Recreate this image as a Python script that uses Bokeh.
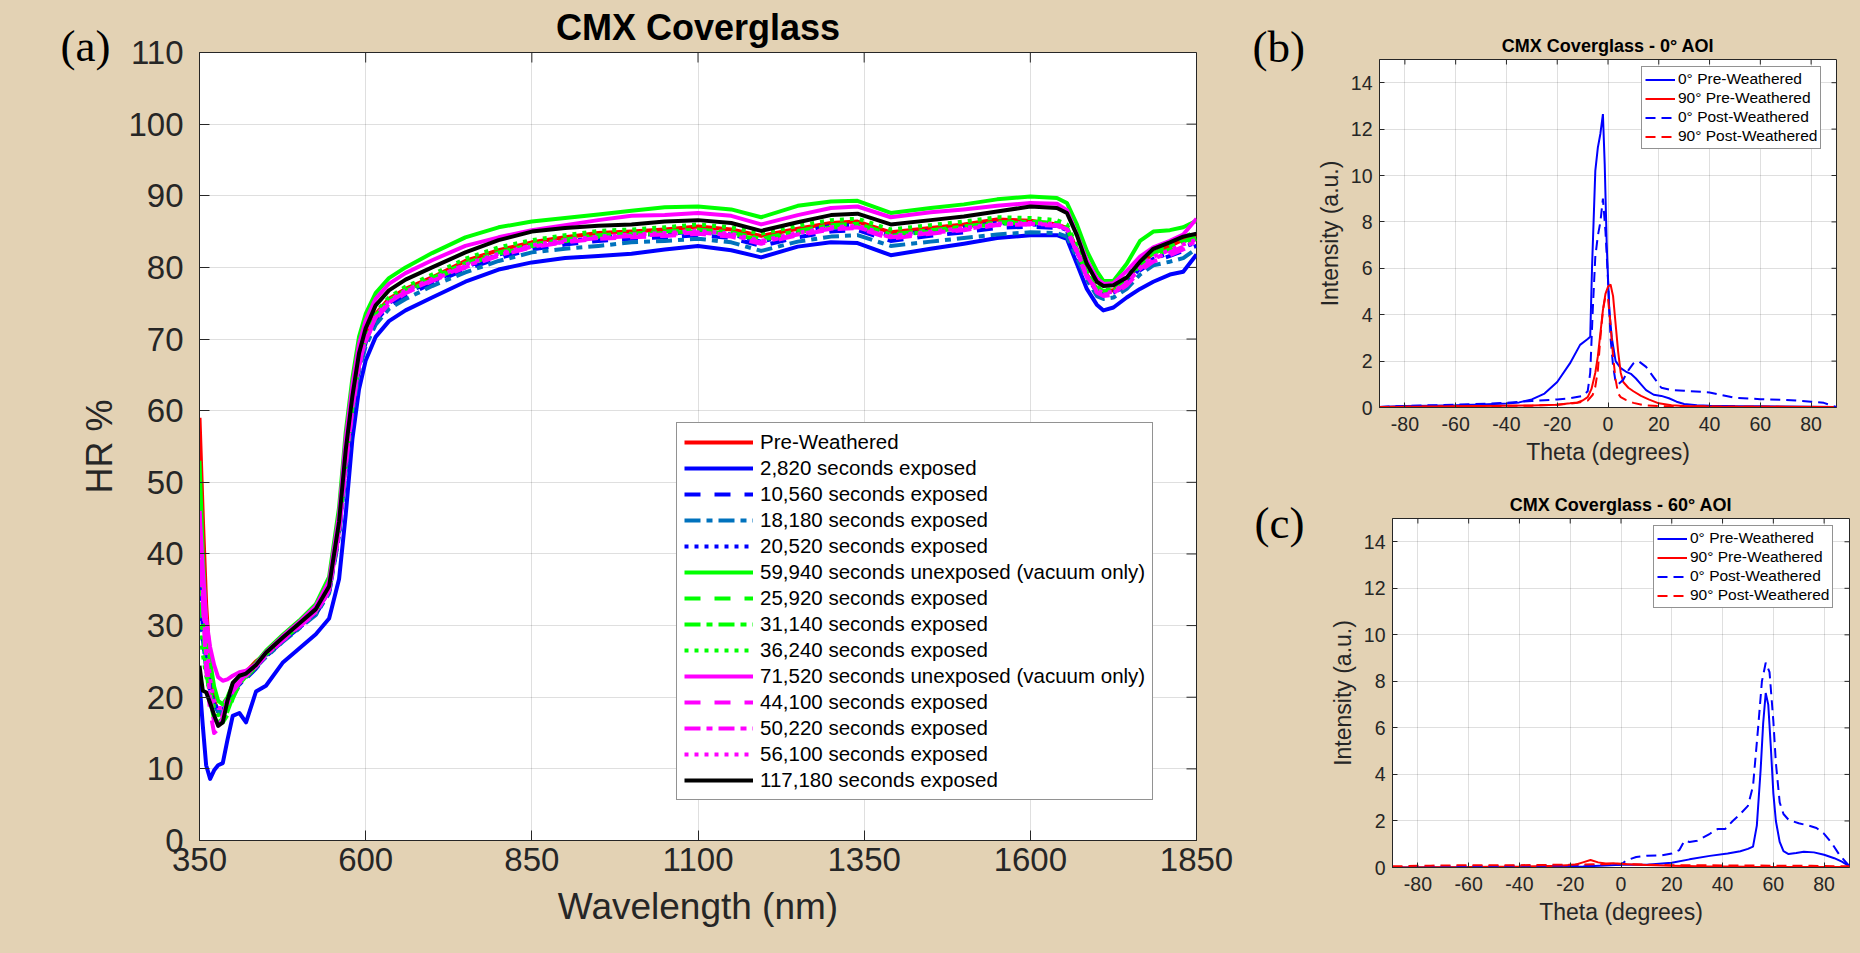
import math
from bokeh.plotting import figure
from bokeh.layouts import row, column
from bokeh.models import Label, Legend, LegendItem, FixedTicker, Range1d, Spacer
from bokeh.embed import file_html
from bokeh.resources import INLINE

# ---------------- data: panel (a) ----------------
WL = [350, 355, 360, 366, 372, 378, 385, 392, 400, 410, 420, 435,
      450, 475, 500, 525, 545, 560, 570, 580, 590, 600, 615, 635, 660,
      700, 750, 800, 850, 900, 950, 1000, 1050, 1100, 1150, 1195, 1250, 1300, 1340, 1390, 1450, 1500, 1550, 1600,
      1640, 1655, 1670, 1685, 1700, 1710, 1725, 1745, 1765, 1785, 1810, 1830, 1850]

pre_weathered = [59.0, 45.0, 33.0, 24.0, 19.5, 18.0, 17.5, 19.5, 21.5, 22.5, 23.5, 25.0,
    26.0, 28.1, 30.0, 32.0, 35.0, 43.5, 53.0, 61.0, 67.0, 70.5, 73.5, 75.6, 77.0,
    78.6, 80.9, 82.4, 83.5, 84.2, 84.8, 85.0, 85.3, 85.7, 85.3, 84.4, 85.4, 86.2, 86.4, 84.9, 85.5, 86.0, 86.7, 86.5,
    86.0, 85.5, 82.5, 79.0, 77.0, 76.6, 76.8, 78.4, 80.5, 82.0, 83.0, 83.9, 84.6]
s2820 = [22.0, 16.0, 10.5, 8.6, 9.8, 10.5, 10.8, 14.0, 17.4, 17.8, 16.5, 20.8,
    21.6, 24.8, 26.8, 28.8, 31.0, 36.5, 45.5, 56.0, 63.0, 67.0, 70.3, 72.5, 74.0,
    75.8, 78.0, 79.7, 80.7, 81.3, 81.6, 81.9, 82.5, 83.0, 82.4, 81.4, 82.9, 83.5, 83.4, 81.7, 82.6, 83.3, 84.1, 84.5,
    84.5, 84.0, 80.5, 77.0, 74.8, 74.0, 74.4, 75.8, 77.0, 78.0, 79.0, 79.4, 81.8]
s10560 = [36.0, 30.0, 25.0, 21.5, 19.0, 18.0, 17.8, 18.8, 20.3, 21.6, 22.6, 24.0,
    25.7, 27.8, 29.7, 31.6, 34.6, 42.8, 52.0, 60.0, 66.0, 69.5, 72.5, 74.6, 76.0,
    77.8, 79.7, 81.3, 82.5, 83.2, 83.7, 84.0, 84.2, 84.5, 84.1, 83.0, 84.2, 85.0, 85.2, 83.7, 84.4, 84.9, 85.5, 85.7,
    85.5, 85.0, 82.0, 78.7, 76.6, 76.2, 76.4, 77.6, 79.6, 80.8, 81.6, 82.3, 83.0]
s18180 = [33.0, 28.0, 24.0, 21.0, 19.0, 18.0, 17.8, 19.0, 20.5, 21.8, 22.8, 24.2,
    25.6, 27.7, 29.6, 31.5, 34.5, 42.5, 51.5, 59.5, 65.5, 69.0, 72.0, 74.2, 75.6,
    77.4, 79.3, 80.9, 82.1, 82.6, 83.0, 83.5, 83.7, 84.0, 83.5, 82.3, 83.6, 84.3, 84.5, 83.0, 83.6, 84.1, 84.6, 84.9,
    84.8, 84.3, 81.4, 78.3, 76.0, 75.6, 75.8, 77.0, 79.0, 80.3, 80.8, 81.3, 82.6]
s20520 = [34.0, 28.0, 24.0, 21.0, 19.2, 18.3, 18.2, 19.2, 20.6, 21.8, 22.8, 24.2,
    25.8, 27.9, 29.8, 31.8, 34.8, 43.0, 52.3, 60.3, 66.3, 69.8, 72.8, 75.0, 76.5,
    78.0, 80.0, 81.8, 83.0, 83.6, 84.2, 84.5, 84.7, 85.0, 84.6, 83.6, 84.8, 85.8, 85.9, 84.4, 85.1, 85.6, 86.2, 86.0,
    85.8, 85.2, 82.2, 78.9, 76.8, 76.3, 76.5, 77.8, 79.9, 81.2, 82.0, 82.8, 83.5]
s59940 = [53.0, 40.0, 30.0, 25.0, 21.5, 19.5, 19.0, 20.0, 21.8, 22.8, 23.4, 24.8,
    26.5, 28.7, 30.7, 33.0, 36.8, 46.5, 57.0, 64.5, 70.3, 73.5, 76.4, 78.5, 80.0,
    82.0, 84.2, 85.6, 86.4, 86.9, 87.4, 87.9, 88.4, 88.5, 88.1, 87.0, 88.6, 89.2, 89.3, 87.6, 88.3, 88.8, 89.5, 89.9,
    89.7, 89.0, 86.0, 82.3, 79.5, 78.1, 78.1, 80.5, 83.7, 85.0, 85.2, 85.6, 86.5]
s25920 = [50.0, 36.0, 27.0, 21.0, 17.5, 16.3, 16.5, 17.5, 19.8, 21.8, 22.8, 24.2,
    25.9, 28.0, 29.9, 31.9, 35.0, 43.3, 52.7, 60.6, 66.6, 70.0, 73.0, 75.2, 76.6,
    78.3, 80.3, 81.9, 83.0, 83.7, 84.3, 84.5, 84.8, 85.1, 84.7, 83.8, 84.9, 85.6, 85.8, 84.4, 85.0, 85.5, 86.1, 86.3,
    86.0, 85.4, 82.4, 79.0, 77.0, 76.5, 76.7, 78.2, 80.3, 81.7, 82.5, 83.3, 84.0]
s31140 = [38.0, 30.0, 24.0, 19.5, 17.0, 16.5, 17.0, 18.0, 20.0, 21.9, 22.9, 24.3,
    26.0, 28.0, 30.0, 32.0, 35.0, 43.4, 52.9, 60.8, 66.8, 70.3, 73.3, 75.4, 76.8,
    78.5, 80.6, 82.1, 83.2, 83.9, 84.5, 84.7, 85.0, 85.3, 84.9, 84.0, 85.1, 85.9, 86.1, 84.6, 85.2, 85.7, 86.3, 86.4,
    86.2, 85.6, 82.6, 79.2, 77.2, 76.7, 76.9, 78.5, 80.6, 82.0, 82.9, 83.6, 84.3]
s36240 = [30.0, 26.0, 23.0, 20.5, 18.5, 17.5, 17.8, 19.0, 20.6, 22.0, 23.0, 24.4,
    26.1, 28.2, 30.1, 32.1, 35.2, 43.7, 53.2, 61.2, 67.2, 70.7, 73.7, 75.8, 77.3,
    79.0, 81.2, 82.8, 83.8, 84.5, 85.1, 85.3, 85.6, 86.0, 85.6, 84.7, 85.8, 86.6, 86.8, 85.3, 85.9, 86.4, 87.0, 86.9,
    86.6, 86.0, 83.0, 79.4, 77.3, 76.8, 77.0, 78.8, 81.0, 82.4, 83.3, 84.2, 85.0]
s71520 = [46.0, 38.0, 31.0, 27.0, 24.5, 22.8, 22.3, 22.5, 23.0, 23.5, 23.7, 24.6,
    26.3, 28.5, 30.5, 32.7, 36.2, 45.5, 56.0, 63.5, 69.3, 72.6, 75.6, 77.7, 79.2,
    81.0, 83.0, 84.2, 85.2, 85.9, 86.6, 87.2, 87.3, 87.6, 87.2, 86.0, 87.3, 88.3, 88.5, 87.0, 87.7, 88.1, 88.6, 89.0,
    88.9, 88.0, 84.6, 81.0, 78.5, 77.7, 77.8, 79.5, 81.5, 82.8, 83.7, 84.6, 86.8]
s44100 = [46.0, 33.0, 24.0, 18.0, 15.0, 15.5, 17.5, 19.5, 21.0, 22.2, 23.0, 24.3,
    25.8, 27.9, 29.8, 31.8, 34.8, 43.0, 52.3, 60.2, 66.2, 69.7, 72.8, 74.9, 76.4,
    78.1, 80.0, 81.6, 82.8, 83.5, 84.0, 84.2, 84.4, 84.7, 84.3, 83.3, 84.5, 85.3, 85.5, 84.0, 84.7, 85.2, 85.9, 86.0,
    85.8, 85.2, 82.1, 78.6, 76.5, 76.0, 76.2, 77.5, 79.5, 80.8, 81.7, 82.5, 83.3]
s50220 = [44.0, 34.0, 26.0, 20.0, 16.5, 16.0, 17.0, 19.0, 20.8, 22.0, 23.0, 24.3,
    25.9, 28.0, 29.9, 31.9, 34.9, 43.2, 52.5, 60.4, 66.4, 69.9, 73.0, 75.1, 76.6,
    78.2, 80.2, 81.7, 82.9, 83.6, 84.1, 84.4, 84.6, 84.9, 84.5, 83.5, 84.6, 85.4, 85.6, 84.2, 84.8, 85.3, 86.0, 86.1,
    85.9, 85.3, 82.3, 78.8, 76.7, 76.2, 76.4, 77.8, 79.8, 81.2, 82.1, 82.9, 83.6]
s56100 = [42.0, 35.0, 28.0, 22.5, 19.5, 18.5, 18.5, 19.8, 21.2, 22.3, 23.1, 24.4,
    26.0, 28.1, 30.0, 32.0, 35.0, 43.4, 52.8, 60.7, 66.7, 70.2, 73.2, 75.3, 76.8,
    78.4, 80.4, 81.9, 83.1, 83.8, 84.3, 84.6, 84.8, 85.1, 84.7, 83.7, 84.8, 85.6, 85.8, 84.4, 85.0, 85.5, 86.1, 86.2,
    86.0, 85.4, 82.4, 78.9, 76.9, 76.4, 76.6, 78.0, 80.1, 81.5, 82.4, 83.2, 83.9]
s117180 = [24.4, 20.9, 20.7, 19.2, 17.5, 16.0, 16.5, 19.5, 22.0, 23.0, 23.3, 24.5,
    26.2, 28.3, 30.3, 32.3, 35.5, 44.5, 54.5, 62.0, 68.0, 71.5, 74.7, 76.8, 78.3,
    80.0, 82.1, 83.8, 85.0, 85.5, 85.8, 86.0, 86.4, 86.6, 86.2, 85.1, 86.3, 87.3, 87.5, 86.0, 86.6, 87.1, 87.8, 88.5,
    88.3, 87.6, 84.5, 80.5, 78.0, 77.4, 77.5, 78.6, 80.8, 82.6, 83.5, 84.3, 84.7]

SERIES_A = [pre_weathered, s2820, s10560, s18180, s20520, s59940, s25920, s31140, s36240,
            s71520, s44100, s50220, s56100, s117180]
LABELS_A = ["Pre-Weathered", "2,820 seconds exposed", "10,560 seconds exposed", "18,180 seconds exposed",
            "20,520 seconds exposed", "59,940 seconds unexposed (vacuum only)", "25,920 seconds exposed",
            "31,140 seconds exposed", "36,240 seconds exposed", "71,520 seconds unexposed (vacuum only)",
            "44,100 seconds exposed", "50,220 seconds exposed", "56,100 seconds exposed",
            "117,180 seconds exposed"]
XTICKS_A = [350, 600, 850, 1100, 1350, 1600, 1850]
YTICKS_A = [0, 10, 20, 30, 40, 50, 60, 70, 80, 90, 100, 110]

# ---------------- data: panel (b) 0 deg AOI ----------------
b_pre0_theta = [-90, -80, -70, -60, -50, -40, -35, -30, -25, -20, -15, -11, -8, -7, -6.3, -5, -4, -3, -2, -1.3,
                -0.5, 0.5, 1.5, 3, 5, 7, 9, 11, 13, 15, 18, 21, 24, 27, 30, 35, 40, 50, 60, 70, 80, 90]
b_pre0 = [0.02, 0.06, 0.08, 0.1, 0.13, 0.17, 0.22, 0.35, 0.6, 1.1, 1.9, 2.7, 2.95, 3.05, 6.0, 10.2, 11.2, 11.8, 12.65, 10.5,
          7.0, 4.2, 3.0, 2.0, 1.7, 1.55, 1.45, 1.25, 1.0, 0.75, 0.55, 0.5, 0.4, 0.25, 0.15, 0.1, 0.08, 0.06, 0.05, 0.04, 0.03, 0.02]
b_pre90_theta = [-90, -70, -50, -30, -20, -15, -12, -10, -8, -6.5, -5, -4, -3, -2, -1, 0, 1, 2, 3, 4,
                 5, 6, 8, 10, 13, 16, 20, 25, 30, 40, 60, 90]
b_pre90 = [0.02, 0.05, 0.07, 0.09, 0.12, 0.18, 0.22, 0.3, 0.45, 0.8, 1.5, 2.2, 3.2, 4.2, 4.9, 5.2, 5.3, 4.8, 3.6, 2.4,
           1.5, 1.1, 0.85, 0.7, 0.5, 0.35, 0.18, 0.1, 0.06, 0.04, 0.03, 0.02]
b_post0_theta = [-90, -80, -60, -40, -30, -20, -15, -10, -8, -7, -6, -5, -4, -3, -2, -1, 0, 1, 2, 3,
                 4, 6, 8, 10, 12, 15, 18, 21, 25, 30, 40, 50, 60, 70, 80, 85, 90]
b_post0 = [0.02, 0.07, 0.12, 0.2, 0.28, 0.35, 0.4, 0.5, 0.7, 1.5, 4.2, 6.5, 7.4, 8.0, 9.0, 7.6, 5.5, 3.0, 1.8, 1.1,
           1.0, 1.2, 1.6, 1.9, 2.0, 1.75, 1.3, 0.85, 0.75, 0.72, 0.65, 0.42, 0.36, 0.33, 0.25, 0.2, 0.02]
b_post90_theta = [-90, -70, -50, -30, -20, -12, -8, -6, -5, -4, -3, -2, -1, 0, 1, 2, 3, 4, 5, 7,
                  10, 14, 20, 40, 60, 90]
b_post90 = [0.02, 0.04, 0.06, 0.08, 0.12, 0.2, 0.3, 0.55, 0.9, 1.6, 3.0, 4.2, 4.8, 4.7, 3.6, 2.2, 1.2, 0.6, 0.45, 0.33,
            0.2, 0.1, 0.06, 0.04, 0.03, 0.02]

# ---------------- data: panel (c) 60 deg AOI ----------------
c_pre0_theta = [-90, -60, -30, -15, 0, 10, 20, 27, 35, 42, 47, 50, 52, 53.5, 55, 56, 57, 58, 59, 60,
                61, 62.5, 64, 66, 69, 72, 76, 80, 84, 87, 90]
c_pre0 = [0.0, 0.01, 0.02, 0.04, 0.12, 0.12, 0.2, 0.35, 0.5, 0.6, 0.7, 0.8, 0.9, 1.8, 4.2, 6.2, 7.5, 7.0, 5.2, 3.2,
          2.0, 1.1, 0.7, 0.58, 0.62, 0.68, 0.65, 0.55, 0.4, 0.25, 0.05]
c_pre90_theta = [-90, -60, -40, -25, -18, -15, -12, -9, -6, -3, 0, 5, 10, 20, 30, 50, 70, 90]
c_pre90 = [0.0, 0.02, 0.04, 0.08, 0.12, 0.22, 0.32, 0.22, 0.17, 0.18, 0.15, 0.13, 0.11, 0.08, 0.05, 0.03, 0.02, 0.02]
c_post0_theta = [-90, -60, -30, -10, 0, 2, 6, 10, 16, 20, 23, 25, 27, 30, 35, 38, 41, 44, 47, 50,
                 52, 54, 55.5, 57, 58.5, 60, 61, 62.5, 64, 66, 70, 74, 77, 80, 83, 86, 90]
c_post0 = [0.02, 0.06, 0.08, 0.1, 0.12, 0.3, 0.45, 0.5, 0.52, 0.6, 0.75, 1.15, 1.1, 1.15, 1.45, 1.65, 1.65, 2.0, 2.3, 2.65,
           3.5, 6.0, 8.0, 8.8, 8.4, 6.3, 4.5, 2.8, 2.3, 2.05, 1.9, 1.8, 1.7, 1.45, 1.05, 0.55, 0.05]
c_post90_theta = [-90, -75, -60, -40, -20, -10, 0, 10, 20, 40, 60, 75, 90]
c_post90 = [0.05, 0.08, 0.1, 0.1, 0.12, 0.14, 0.16, 0.12, 0.1, 0.09, 0.08, 0.07, 0.05]

LABELS_BC = ["0\u00b0 Pre-Weathered", "90\u00b0 Pre-Weathered", "0\u00b0 Post-Weathered", "90\u00b0 Post-Weathered"]
XTICKS_BC = [-80, -60, -40, -20, 0, 20, 40, 60, 80]
YTICKS_BC = [0, 2, 4, 6, 8, 10, 12, 14]

for s in SERIES_A:
    assert len(s) == len(WL)
for t, v in [(b_pre0_theta, b_pre0), (b_pre90_theta, b_pre90), (b_post0_theta, b_post0), (b_post90_theta, b_post90),
             (c_pre0_theta, c_pre0), (c_pre90_theta, c_pre90), (c_post0_theta, c_post0), (c_post90_theta, c_post90)]:
    assert len(t) == len(v)

# ---------------- styles ----------------
BG = "#E3D2B4"
AX = "#262626"
FONT = "Liberation Sans"
SERIF = "Liberation Serif"
COLORS_A = ["#FF0000", "#0000FF", "#0000FF", "#0072BD", "#0000FF", "#00FF00", "#00FF00", "#00FF00", "#00FF00",
            "#FF00FF", "#FF00FF", "#FF00FF", "#FF00FF", "#000000"]
SOLID, DASH, DASHDOT, DOT = "solid", "16 14", "16 6 6 6", "4 6"
DASHES_A = [SOLID, SOLID, DASH, DASHDOT, DOT, SOLID, DASH, DASHDOT, DOT, SOLID, DASH, DASHDOT, DOT, SOLID]


def make_fig(w, h, xr, yr, ml, mr, mt, mb, title):
    p = figure(width=w, height=h, x_range=Range1d(*xr), y_range=Range1d(*yr),
               output_backend="svg", toolbar_location=None, title=title,
               min_border_left=ml, min_border_right=mr, min_border_top=mt, min_border_bottom=mb)
    return p


def style(p, xr, yr, fw, fh, xticks, yticks, tick_px, tick_len, label_px, xlab, ylab, xstand, ystand, lab_stand,
          title_px, title_stand):
    p.background_fill_color = "white"
    p.border_fill_color = BG
    p.outline_line_color = AX
    p.outline_line_width = 1
    p.xaxis.ticker = FixedTicker(ticks=xticks)
    p.yaxis.ticker = FixedTicker(ticks=yticks)
    p.xaxis.major_label_overrides = {t: str(t) for t in xticks}
    p.yaxis.major_label_overrides = {t: str(t) for t in yticks}
    p.xaxis.axis_label = xlab
    p.yaxis.axis_label = ylab
    p.xaxis.major_label_standoff = xstand
    p.yaxis.major_label_standoff = ystand
    for ax in list(p.xaxis) + list(p.yaxis):
        ax.axis_line_color = AX
        ax.major_tick_line_color = AX
        ax.major_tick_in = tick_len
        ax.major_tick_out = 0
        ax.minor_tick_line_color = None
        ax.major_label_text_font = FONT
        ax.major_label_text_font_size = tick_px
        ax.major_label_text_color = AX
        ax.axis_label_text_font = FONT
        ax.axis_label_text_font_size = label_px
        ax.axis_label_text_font_style = "normal"
        ax.axis_label_text_color = AX
        ax.axis_label_standoff = lab_stand
    p.grid.grid_line_color = AX
    p.grid.grid_line_alpha = 0.15
    # mirrored ticks on top and right (MATLAB box style)
    dy = (yr[1] - yr[0]) * tick_len / fh
    dx = (xr[1] - xr[0]) * tick_len / fw
    p.segment(x0=xticks, x1=xticks, y0=[yr[1]] * len(xticks), y1=[yr[1] - dy] * len(xticks),
              line_color=AX, line_width=1)
    p.segment(x0=[xr[1]] * len(yticks), x1=[xr[1] - dx] * len(yticks), y0=yticks, y1=yticks,
              line_color=AX, line_width=1)
    p.title.text_font = FONT
    p.title.text_font_size = title_px
    p.title.text_font_style = "bold"
    p.title.text_color = "black"
    p.title.align = "center"
    p.title.standoff = title_stand


def text_fig(w, h, text, x, y, font, size, angle=0.0, align="left", color="black"):
    p = figure(width=w, height=h, x_range=Range1d(0, w), y_range=Range1d(0, h), output_backend="svg",
               toolbar_location=None, x_axis_location=None, y_axis_location=None,
               min_border=0, min_border_left=0, min_border_right=0, min_border_top=0, min_border_bottom=0)
    p.grid.visible = False
    p.outline_line_color = None
    p.background_fill_color = BG
    p.border_fill_color = BG
    p.add_layout(Label(x=x, y=y, text=text, text_align=align, text_baseline="middle", text_font=font,
                       text_font_size=size, text_color=color, angle=angle))
    return p


# ---------------- panel (a) ----------------
PA_W, PA_H, PA_ML, PA_MR, PA_MT, PA_MB = 1115, 953, 73, 44, 52, 113
pa = make_fig(PA_W, PA_H, (350, 1850), (0, 110), PA_ML, PA_MR, PA_MT, PA_MB, "CMX Coverglass")
style(pa, (350, 1850), (0, 110), PA_W - PA_ML - PA_MR, PA_H - PA_MT - PA_MB, XTICKS_A, YTICKS_A,
      "33px", 10, "37px", "Wavelength (nm)", None, 7, 16, 12, "36px", 9)
items = []
for ys, lab, col, dsh in zip(SERIES_A, LABELS_A, COLORS_A, DASHES_A):
    r = pa.line(WL, ys, line_color=col, line_width=4, line_dash=dsh, line_join="round")
    items.append(LegendItem(label=lab, renderers=[r]))
leg = Legend(items=items, location=(477, 40), label_text_font=FONT, label_text_font_size="20.5px",
             label_text_color="black", glyph_width=69, glyph_height=20, label_height=20, label_standoff=7,
             spacing=2, padding=7, margin=0, border_line_color=AX, border_line_width=1,
             background_fill_color="white", background_fill_alpha=1.0)
pa.add_layout(leg)

fa_letter = text_fig(125, 75, "(a)", 60, 30, SERIF, "45px")
fa_ylab = text_fig(125, 878, "HR %", 99, 507, FONT, "36px", angle=math.pi / 2, align="center", color=AX)


# ---------------- panels (b), (c) ----------------
def small_panel(w, h, ml, mr, mt, mb, title, curves, leg_loc):
    p = make_fig(w, h, (-90, 90), (0, 15), ml, mr, mt, mb, title)
    style(p, (-90, 90), (0, 15), w - ml - mr, h - mt - mb, XTICKS_BC, YTICKS_BC, "19.5px", 5, "23px",
          "Theta (degrees)", "Intensity (a.u.)", 9, 7, 5, "18px", 7)
    its = []
    cols = ["#0000FF", "#FF0000", "#0000FF", "#FF0000"]
    dsh = ["solid", "solid", "10 6", "10 6"]
    for (t, v), lab, c, d in zip(curves, LABELS_BC, cols, dsh):
        r = p.line(t, v, line_color=c, line_width=2, line_dash=d)
        its.append(LegendItem(label=lab, renderers=[r]))
    lg = Legend(items=its, location=leg_loc, label_text_font=FONT, label_text_font_size="15.5px",
                label_text_color="black", glyph_width=30, glyph_height=17, label_height=17, label_standoff=3,
                spacing=1, padding=3, margin=0, border_line_color=AX, border_line_width=1,
                background_fill_color="white", background_fill_alpha=1.0)
    p.add_layout(lg)
    return p


pb = small_panel(550, 476, 69, 24, 59, 69, "CMX Coverglass - 0\u00b0 AOI",
                 [(b_pre0_theta, b_pre0), (b_pre90_theta, b_pre90), (b_post0_theta, b_post0),
                  (b_post90_theta, b_post90)], (262, 258))
pc = small_panel(550, 477, 82, 11, 42, 86, "CMX Coverglass - 60\u00b0 AOI",
                 [(c_pre0_theta, c_pre0), (c_pre90_theta, c_pre90), (c_post0_theta, c_post0),
                  (c_post90_theta, c_post90)], (261, 259))
fb_col = column(text_fig(70, 75, "(b)", 12, 29, SERIF, "45px"), Spacer(width=70, height=401), spacing=0)
fc_col = column(text_fig(70, 75, "(c)", 14, 29, SERIF, "45px"), Spacer(width=70, height=402), spacing=0)

layout = row(column(fa_letter, fa_ylab, spacing=0), pa,
             column(row(fb_col, pb, spacing=0), row(fc_col, pc, spacing=0), spacing=0),
             spacing=0)
html = file_html(layout, INLINE, title="CMX Coverglass")
html = html.replace("<body>", '<body style="margin:0;background:%s;">' % BG)
open("out.html", "w").write(html)
